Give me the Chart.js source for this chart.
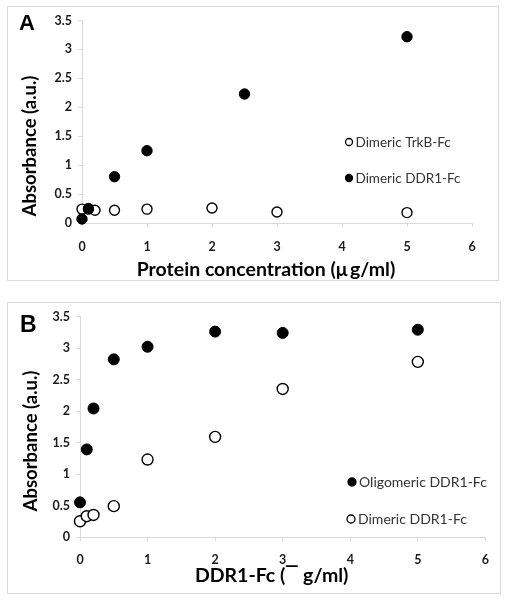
<!DOCTYPE html>
<html><head><meta charset="utf-8">
<script src="https://cdn.jsdelivr.net/npm/chart.js@4/dist/chart.umd.min.js"></script>
<style>
body{margin:0;background:#fff;width:508px;height:601px;position:relative;overflow:hidden;font-family:Lato}
.panel{position:absolute;border:1px solid #d9d9d9;box-sizing:border-box;background:#fff}
.panel canvas{display:block}
.tag{position:absolute;font:bold 22px "Liberation Sans";color:#000;line-height:1}
</style></head><body>
<div class="panel" style="left:7px;top:6px;width:492px;height:275px"><canvas id="ca" width="490" height="273"></canvas></div>
<div class="panel" style="left:7px;top:302px;width:494px;height:292px"><canvas id="cb" width="492" height="290"></canvas></div>
<div class="tag" style="left:19px;top:12px">A</div>
<div class="tag" style="left:20px;top:313px;font-size:23px">B</div>
<script>
// ---- data ----
const xTickLabels = ['0','1','2','3','4','5','6'];
const yTickLabels = ['0','0.5','1','1.5','2','2.5','3','3.5'];

// Panel A
const ddr1X_A = [0, 0.1, 0.5, 1, 2.5, 5];
const ddr1Y_A = [0.07, 0.24, 0.80, 1.25, 2.23, 3.22];
const trkbX_A = [0, 0.1, 0.2, 0.5, 1, 2, 3, 5];
const trkbY_A = [0.24, 0.25, 0.22, 0.22, 0.24, 0.26, 0.19, 0.18];

// Panel B
const concB = [0, 0.1, 0.2, 0.5, 1, 2, 3, 5];
const oligY_B = [0.55, 1.39, 2.04, 2.82, 3.02, 3.26, 3.24, 3.29];
const dimY_B = [0.25, 0.33, 0.35, 0.49, 1.23, 1.59, 2.35, 2.78];

const pts = (xs, ys) => xs.map((x, i) => ({x: x, y: ys[i]}));

const customPlugin = {
  id: 'custom',
  afterDraw(chart, args, opts) {
    const ctx = chart.ctx;
    const ca = chart.chartArea;
    ctx.save();
    ctx.font = opts.titleFont;
    ctx.fillStyle = '#000';
    ctx.textAlign = 'center';
    ctx.textBaseline = 'middle';
    ctx.fillText(opts.xTitle, (ca.left + ca.right) / 2 + opts.xTitleDX, opts.xTitleY);
    ctx.font = opts.yTitleFont;
    ctx.translate(opts.yTitleX, opts.yTitleY);
    ctx.rotate(-Math.PI / 2);
    ctx.fillText(opts.yTitle, 0, 0);
    ctx.restore();
    opts.legend.forEach(item => {
      const ds = chart.data.datasets[item.index];
      ctx.save();
      ctx.beginPath();
      ctx.arc(item.x, item.y, item.r, 0, 2 * Math.PI);
      ctx.fillStyle = ds.pointBackgroundColor;
      ctx.fill();
      ctx.lineWidth = 1.3;
      ctx.strokeStyle = '#000';
      ctx.stroke();
      ctx.font = opts.legendFont;
      ctx.fillStyle = '#333';
      ctx.textAlign = 'left';
      ctx.textBaseline = 'middle';
      ctx.fillText(ds.label, item.x + item.r + 3, item.y + 0.5);
      ctx.restore();
    });
  }
};

function makeChart(id, datasets, cfg) {
  return new Chart(document.getElementById(id), {
    type: 'scatter',
    data: {datasets: datasets},
    options: {
      responsive: false,
      animation: false,
      layout: {padding: {left: 0, right: cfg.padRight, top: cfg.padTop, bottom: 0}},
      plugins: {
        legend: {display: false},
        tooltip: {enabled: false},
        custom: cfg.custom
      },
      scales: {
        x: {
          type: 'linear', min: 0, max: 6,
          afterFit: s => { s.height = cfg.xHeight; },
          border: {display: true, color: '#d9d9d9', width: 1},
          grid: {drawOnChartArea: false, drawTicks: true, tickLength: 4, color: '#d9d9d9'},
          ticks: {stepSize: 1, padding: cfg.xTickPad, color: '#1a1a1a', font: {family: 'Lato', weight: 'bold', size: 12.5},
                  callback: (v, i) => xTickLabels[i]}
        },
        y: {
          type: 'linear', min: 0, max: 3.5,
          afterFit: s => { s.width = cfg.yWidth; },
          border: {display: true, color: '#d9d9d9', width: 1},
          grid: {drawOnChartArea: false, drawTicks: true, tickLength: 4, color: '#d9d9d9'},
          ticks: {stepSize: 0.5, padding: 6, color: '#1a1a1a', font: {family: 'Lato', weight: 'bold', size: 12.5},
                  callback: (v, i) => yTickLabels[i]}
        }
      }
    },
    plugins: [customPlugin]
  });
}

makeChart('ca', [
  {label: 'Dimeric DDR1-Fc', data: pts(ddr1X_A, ddr1Y_A), clip: false, pointRadius: 5.2, pointBackgroundColor: '#000', pointBorderColor: '#000', pointBorderWidth: 1},
  {label: 'Dimeric TrkB-Fc', data: pts(trkbX_A, trkbY_A), clip: false, pointRadius: 5, pointBackgroundColor: '#fff', pointBorderColor: '#000', pointBorderWidth: 1.4}
], {
  padRight: 26, padTop: 10, xHeight: 57, yWidth: 74, xTickPad: 12,
  custom: {xTitle: 'Protein concentration (\u03bc\u2009g/ml)', titleFont: 'bold 19.5px Lato', xTitleDX: -11, xTitleY: 263,
    yTitle: 'Absorbance (a.u.)', yTitleFont: 'bold 18.5px Lato', yTitleX: 22, yTitleY: 139, legendFont: '13.5px Lato',
    legend: [{index: 1, x: 341, y: 135, r: 3.5}, {index: 0, x: 341, y: 171, r: 3.5}]}
});

makeChart('cb', [
  {label: 'Oligomeric DDR1-Fc', data: pts(concB, oligY_B), clip: false, pointRadius: 5.5, pointBackgroundColor: '#000', pointBorderColor: '#000', pointBorderWidth: 1},
  {label: 'Dimeric DDR1-Fc', data: pts(concB, dimY_B), clip: false, pointRadius: 5.5, pointBackgroundColor: '#fff', pointBorderColor: '#000', pointBorderWidth: 1.4}
], {
  padRight: 12, padTop: 10, xHeight: 56, yWidth: 72, xTickPad: 11,
  custom: {xTitle: 'DDR1-Fc (\u203e g/ml)', titleFont: 'bold 19.5px Lato', xTitleDX: -11, xTitleY: 273,
    yTitle: 'Absorbance (a.u.)', yTitleFont: 'bold 18.5px Lato', yTitleX: 23, yTitleY: 138, legendFont: '14px Lato',
    legend: [{index: 0, x: 344, y: 179, r: 4}, {index: 1, x: 343, y: 216, r: 4}]}
});
</script>
</body></html>
